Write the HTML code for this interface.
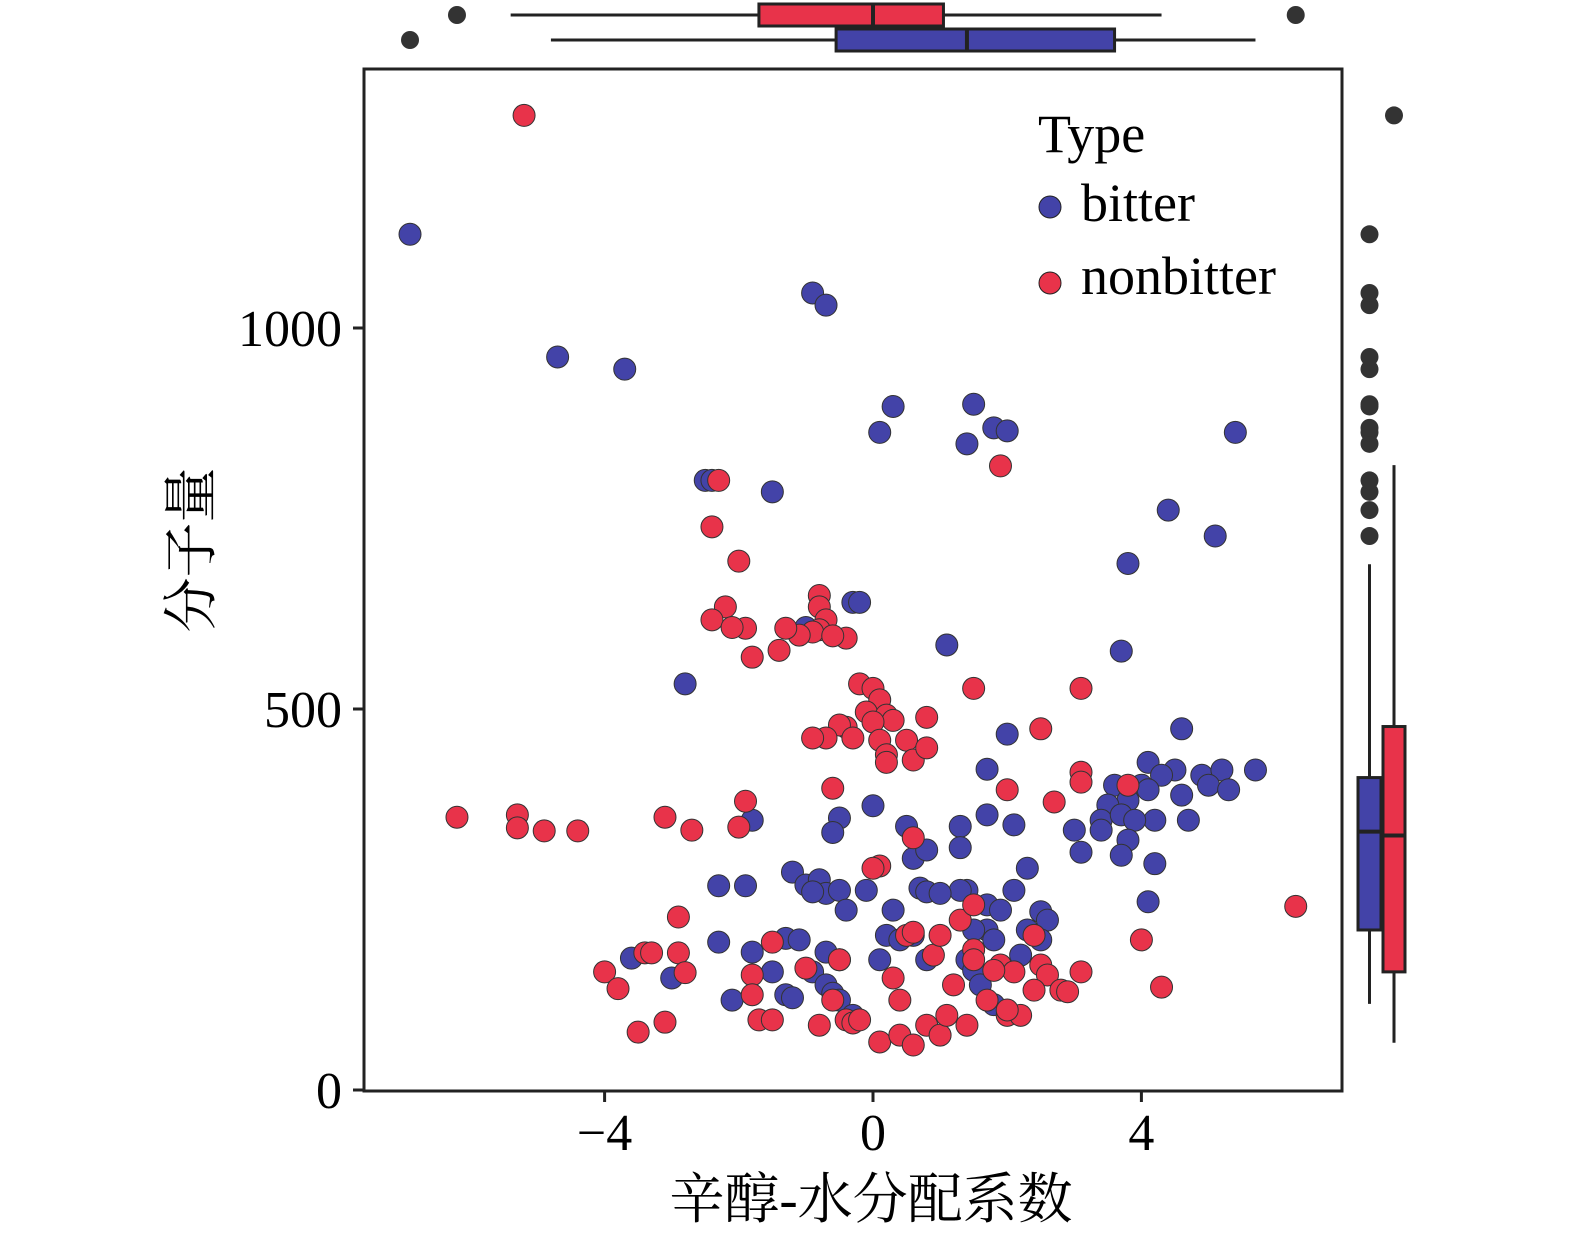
<!DOCTYPE html>
<html><head><meta charset="utf-8">
<style>
html,body{margin:0;padding:0;background:#fff;overflow:hidden;width:1575px;height:1242px;}
svg{display:block;font-family:"Liberation Serif","Noto Serif CJK SC",serif;}
</style></head>
<body>
<svg id="chart" width="1575" height="1242" viewBox="0 0 1575 1242" xmlns="http://www.w3.org/2000/svg">
<rect x="364" y="69" width="978" height="1022" fill="none" stroke="#222" stroke-width="3"/>
<g id="marks"></g>
<g id="axes"></g>
<text x="871" y="1218" text-anchor="middle" font-size="55" font-family="Liberation Serif, Noto Serif CJK SC, serif">辛醇-水分配系数</text>
<text transform="translate(210,550) rotate(-90)" text-anchor="middle" font-size="55" font-family="Liberation Serif, Noto Serif CJK SC, serif">分子量</text>
<g>
<text x="1038" y="152" font-size="54">Type</text>
<circle cx="1050" cy="207" r="11" fill="#4343a8" stroke="#222" stroke-width="1"/>
<text x="1081" y="221" font-size="54">bitter</text>
<circle cx="1050" cy="283" r="11" fill="#e8334a" stroke="#222" stroke-width="1"/>
<text x="1081" y="294" font-size="54">nonbitter</text>
</g>
</svg>
<script>
const xTicks=[-4,0,4];
const xTickLabels=["\u22124","0","4"];
const yTicks=[0,500,1000];
const yTickLabels=["0","500","1000"];
const bitterX=[-6.9,-4.7,-3.7,-0.9,-0.7,0.3,0.1,1.5,1.4,1.8,2.0,5.4,-1.5,-2.5,-2.4,4.4,5.1,3.8,-0.3,-0.2,-1.0,1.1,3.7,-2.8,4.6,2.0,4.1,4.5,4.3,4.9,5.2,5.7,1.7,3.6,4.0,4.1,3.8,3.5,4.6,5.0,5.3,3.4,3.7,4.2,4.7,3.9,3.0,3.4,3.8,3.1,3.7,4.2,4.1,1.7,2.1,1.3,1.3,0.0,-0.5,-0.6,0.5,0.6,0.8,2.3,2.1,1.4,1.7,1.3,-1.8,-1.2,-1.0,-0.8,-0.7,-0.9,-0.5,-0.1,-0.4,-2.3,-1.9,0.3,0.7,0.8,1.0,1.9,2.5,2.6,1.7,1.5,1.8,2.3,2.5,2.2,0.2,0.6,0.8,1.4,1.5,1.6,-2.3,-1.8,-1.3,-1.1,-0.7,-0.5,-0.9,-1.5,0.1,0.4,-3.6,-3.0,-2.1,-1.3,-1.2,-0.7,-0.6,-0.5,-0.3,1.8];
const bitterY=[1123,962,946,1046,1030,897,863,900,848,869,865,863,785,800,800,761,727,691,640,640,607,584,576,533,474,467,430,420,413,413,420,420,421,400,400,394,380,374,387,400,394,354,361,354,354,354,341,341,328,312,308,297,247,361,348,346,318,373,357,338,346,304,315,291,262,262,243,262,354,286,269,276,258,260,262,262,236,268,268,236,265,260,258,236,234,223,210,210,197,210,197,177,203,203,171,171,157,138,194,181,199,197,181,171,155,155,171,197,173,147,118,125,121,138,127,118,98,112];
const nonbitterX=[-5.2,1.9,-2.3,-2.4,-2.0,-0.8,-0.8,-0.7,-0.8,-0.9,-1.1,-1.3,-1.4,-1.9,-2.2,-2.4,-2.1,-1.8,-0.4,-0.6,-0.2,0.0,0.1,-0.1,0.2,0.3,0.0,-0.4,-0.5,-0.7,-0.9,-0.3,0.1,0.5,0.8,0.2,0.2,0.6,0.8,1.5,3.1,2.5,3.1,3.1,3.8,2.7,2.0,-6.2,-5.3,-5.3,-4.9,-4.4,-3.1,-2.7,-1.9,-2.0,-0.6,0.6,6.3,0.1,0.0,-2.9,-3.4,-3.3,-2.9,-4.0,-3.8,-2.8,-3.5,-3.1,-1.5,-1.8,-1.8,-1.7,-1.5,-1.0,-0.5,-0.6,-0.8,-0.4,-0.3,-0.2,0.1,0.4,0.6,0.8,1.0,1.1,1.4,2.0,2.2,0.3,0.5,0.6,0.9,1.0,1.3,1.5,1.5,1.5,1.9,2.1,2.4,2.5,2.6,2.8,2.9,3.1,2.4,1.2,4.0,4.3,2.0,0.4,1.7,1.8];
const nonbitterY=[1279,819,800,739,694,649,634,617,604,601,597,606,577,606,634,617,607,568,593,596,533,527,512,496,492,485,483,476,479,462,462,462,459,459,489,440,430,433,449,527,527,474,417,404,400,378,394,358,361,344,340,340,358,341,379,345,396,331,241,294,291,227,180,180,180,155,133,154,76,89,194,151,125,92,92,160,171,118,85,92,88,92,63,72,59,85,72,98,85,98,98,147,203,207,177,203,223,243,184,171,164,155,203,164,151,131,129,155,131,138,197,135,105,118,118,157];
// boxplot stats: [whiskerLow, q1, median, q3, whiskerHigh]
const xBoxNonbitter=[-5.4,-1.7,0.0,1.05,4.3];
const xBoxBitter=[-4.8,-0.55,1.4,3.6,5.7];
const xOutNonbitter=[-6.2,6.3];
const xOutBitter=[-6.9];
const yBoxBitter=[113,210,339,410,690];
const yBoxNonbitter=[62,155,334,477,820];
const yOutBitter=[727,761,785,800,848,863,869,897,900,946,962,1030,1046,1123];
const yOutNonbitter=[1279];

const NS="http://www.w3.org/2000/svg";
const sx=v=>873+v*67.1;
const sy=v=>1090-v*0.762;
function mk(tag,attrs,parent){const e=document.createElementNS(NS,tag);for(const k in attrs)e.setAttribute(k,attrs[k]);parent.appendChild(e);return e;}
const marks=document.getElementById('marks');
const axes=document.getElementById('axes');
const svg=document.getElementById('chart');

xTicks.forEach((t,i)=>{
  const l=mk('line',{x1:sx(t),x2:sx(t),y1:1091,y2:1102,stroke:'#222','stroke-width':3},axes);
  
  
  const tx=mk('text',{x:sx(t),y:1150,'text-anchor':'middle','font-size':52},axes);
  tx.textContent=xTickLabels[i];
  
  
});
yTicks.forEach((t,i)=>{
  const l=mk('line',{x1:353,x2:364,y1:sy(t),y2:sy(t),stroke:'#222','stroke-width':3},axes);
  
  
  const tx=mk('text',{x:342,y:sy(t)+18,'text-anchor':'end','font-size':52},axes);
  tx.textContent=yTickLabels[i];
  
  
});

bitterX.forEach((v,i)=>{
  const c=mk('circle',{cx:sx(v),cy:sy(bitterY[i]),r:11,fill:'#4343a8',stroke:'#333','stroke-width':1},marks);
  
  
});
nonbitterX.forEach((v,i)=>{
  const c=mk('circle',{cx:sx(v),cy:sy(nonbitterY[i]),r:11,fill:'#e8334a',stroke:'#333','stroke-width':1},marks);
  
  
});

function hbox(s,y0,y1,fill,outs,name){
  const g=mk('g',{},svg);
  
  
  const ym=(y0+y1)/2;
  mk('line',{x1:sx(s[0]),x2:sx(s[4]),y1:ym,y2:ym,stroke:'#222','stroke-width':3},g);
  mk('rect',{x:sx(s[1]),y:y0,width:sx(s[3])-sx(s[1]),height:y1-y0,fill:fill,stroke:'#222','stroke-width':3},g);
  mk('line',{x1:sx(s[2]),x2:sx(s[2]),y1:y0,y2:y1,stroke:'#222','stroke-width':4},g);
  outs.forEach(o=>{const c=mk('circle',{cx:sx(o),cy:ym,r:9,fill:'#333'},g);
    
    });
}
hbox(xBoxNonbitter,4,26,'#e8334a',xOutNonbitter,'top-boxplot-nonbitter');
hbox(xBoxBitter,29,51,'#4343a8',xOutBitter,'top-boxplot-bitter');

function vbox(s,x0,x1,fill,outs,name){
  const g=mk('g',{},svg);
  
  
  const xm=(x0+x1)/2;
  mk('line',{x1:xm,x2:xm,y1:sy(s[0]),y2:sy(s[4]),stroke:'#222','stroke-width':3},g);
  mk('rect',{x:x0,y:sy(s[3]),width:x1-x0,height:sy(s[1])-sy(s[3]),fill:fill,stroke:'#222','stroke-width':3},g);
  mk('line',{x1:x0,x2:x1,y1:sy(s[2]),y2:sy(s[2]),stroke:'#222','stroke-width':4},g);
  outs.forEach(o=>{const c=mk('circle',{cx:xm,cy:sy(o),r:9,fill:'#333'},g);
    
    });
}
vbox(yBoxBitter,1358,1381,'#4343a8',yOutBitter,'right-boxplot-bitter');
vbox(yBoxNonbitter,1383,1405,'#e8334a',yOutNonbitter,'right-boxplot-nonbitter');
</script>
</body></html>
